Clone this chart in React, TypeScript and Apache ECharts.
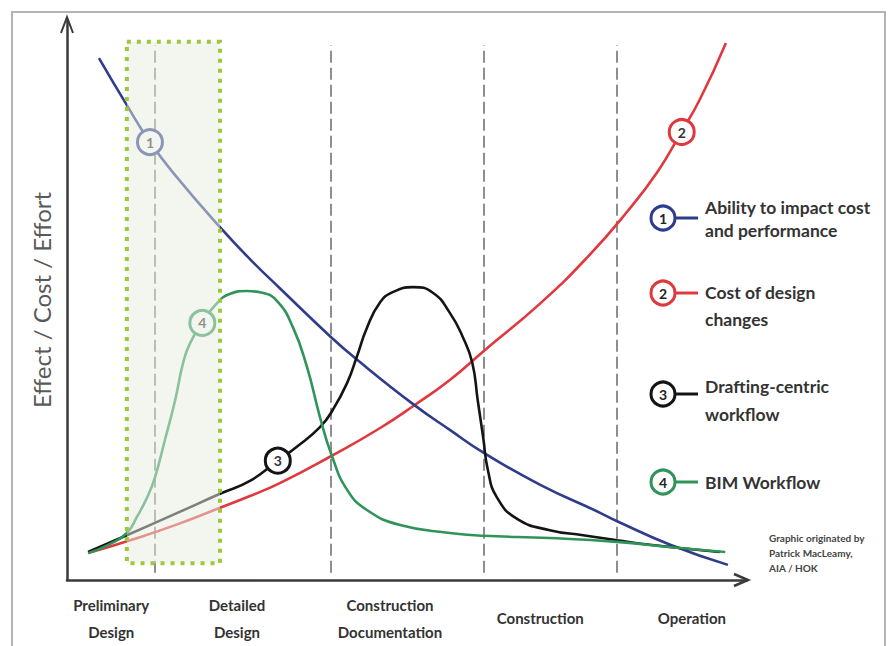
import React, { useEffect, useRef } from "react";
import * as echarts from "echarts";

// ---- data (x: project timeline 0-100, y: relative effect 0-100) ----
const abilityToImpact = [
  [4.7, 93.2], [8.8, 84.8], [12.2, 78.2], [15.9, 72.3], [22.5, 63.0], [26.9, 57.3],
  [31.3, 52.1], [38.8, 43.4], [42.4, 39.6], [50.9, 31.4], [56.3, 26.8], [61.3, 22.7],
  [69.6, 17.0], [78.4, 12.0], [80.9, 10.5], [88.7, 6.3], [97.2, 2.7],
];
const costOfDesignChanges = [
  [3.1, 4.8], [9.3, 7.1], [15.9, 9.8], [22.5, 12.9], [26.9, 15.0], [31.3, 17.3],
  [38.8, 22.1], [46.0, 27.1], [51.2, 31.3], [56.3, 35.7], [61.3, 40.9], [69.6, 49.4],
  [76.5, 57.6], [82.4, 65.8], [86.9, 73.0], [90.1, 79.5], [93.1, 85.9], [96.9, 95.9],
];
const draftingWorkflow = [
  [3.1, 5.0], [8.8, 8.0], [15.9, 11.8], [22.5, 15.4], [26.9, 17.7], [31.0, 21.3],
  [33.8, 23.8], [37.2, 27.3], [39.1, 30.4], [41.2, 35.2], [42.6, 39.8], [44.1, 45.0],
  [46.0, 49.5], [47.9, 51.4], [50.9, 52.3], [53.8, 51.3], [56.3, 47.7], [58.2, 43.4],
  [59.6, 38.8], [60.4, 32.1], [61.2, 25.5], [61.9, 19.6], [63.2, 14.8], [66.2, 10.9],
  [71.0, 8.9], [75.9, 8.0], [80.9, 7.1], [85.7, 6.3], [96.0, 5.0],
];
const bimWorkflow = [
  [3.1, 4.8], [6.3, 6.4], [8.8, 8.4], [10.3, 11.3], [11.8, 14.8], [12.9, 18.2],
  [14.4, 25.0], [15.9, 32.1], [17.1, 38.9], [18.1, 42.3], [19.9, 45.9], [21.8, 49.1],
  [24.0, 51.1], [26.5, 51.6], [28.7, 51.3], [30.9, 49.8], [33.2, 45.2], [35.3, 38.0],
  [37.2, 29.1], [39.0, 22.0], [41.2, 16.1], [44.1, 12.5], [49.0, 9.8], [56.3, 8.4],
  [61.3, 7.9], [71.0, 7.5], [80.9, 6.8], [90.1, 5.7], [96.8, 5.0],
];

const curveTags = [
  [12.2, 78.2], // 1 on ability curve
  [90.4, 80.0], // 2 on cost curve
  [31.0, 21.3], // 3 on drafting curve
  [19.9, 45.9], // 4 on BIM curve
];

const phaseNames = [
  "Preliminary\nDesign",
  "Detailed\nDesign",
  "Construction\nDocumentation",
  "Construction",
  "Operation",
];
const phaseCenters = [6.5, 25.0, 47.5, 69.6, 91.9];
const phaseBoundaries = [12.9, 38.8, 61.3, 80.9];
const boundarySpan = [1.3, 95.5];
const focusX = [8.8, 22.5];
const focusY = [3.0, 96.1];

const legendNames = [
  "Ability to impact cost\nand performance",
  "Cost of design\nchanges",
  "Drafting-centric\nworkflow",
  "BIM Workflow",
];
const axisName = "Effect / Cost / Effort";
const credit = "Graphic originated by\nPatrick MacLeamy,\nAIA / HOK";

const COLORS = ["#2f3c8c", "#e0383e", "#141414", "#2f9459"];
const FONT = "Lato, 'Open Sans', sans-serif";

export default function App() {
  const ref = useRef<HTMLDivElement>(null);

  useEffect(() => {
    document.body.style.margin = "0";
    if (!ref.current) return;
    const chart = echarts.init(ref.current, undefined, { renderer: "svg" });

    const tagPoint = (i: number) => ({
      symbol: "circle",
      symbolSize: 25,
      silent: true,
      z: 5,
      itemStyle: { color: "#ffffff", borderColor: COLORS[i], borderWidth: 3 },
      label: {
        show: true,
        formatter: String(i + 1),
        color: "#333",
        fontSize: 14,
        fontWeight: "bold",
        fontFamily: FONT,
      },
      data: [{ coord: curveTags[i] }],
    });

    const lineSeries = (name: string, data: number[][], i: number, extra: any = {}) => ({
      type: "line",
      name,
      data,
      smooth: 0.5,
      symbol: "none",
      z: 2,
      lineStyle: { color: COLORS[i], width: 2.6 },
      markPoint: tagPoint(i),
      ...extra,
    });

    const labelIndex = (v: number) => {
      let best = 0;
      phaseCenters.forEach((c, i) => {
        if (Math.abs(c - v) < Math.abs(phaseCenters[best] - v)) best = i;
      });
      return best;
    };

    const legendYs = [218, 293, 394, 482];
    const legendTextTops = [196, 279, 372, 470];
    const legendLineHeights = [23, 27, 28, 24];

    const graphics: any[] = [
      {
        type: "rect",
        shape: { x: 12, y: 12, width: 873, height: 660 },
        style: { fill: "none", stroke: "#b4b4b4", lineWidth: 2 },
        silent: true,
      },
      {
        type: "polyline",
        shape: { points: [[61, 33], [67, 17], [73, 33]] },
        style: { stroke: "#3a3a3a", lineWidth: 2, fill: "none" },
        z: 20,
      },
      {
        type: "polyline",
        shape: { points: [[734, 574], [748, 580], [734, 586]] },
        style: { stroke: "#3a3a3a", lineWidth: 2.5, fill: "none" },
        z: 20,
      },
      {
        type: "text",
        x: 769,
        y: 530,
        style: {
          text: credit,
          fill: "#444",
          font: "bold 10px " + FONT,
          lineHeight: 15,
          align: "left",
          verticalAlign: "top",
        },
      },
    ];
    legendNames.forEach((name, i) => {
      const cy = legendYs[i];
      graphics.push(
        {
          type: "line",
          shape: { x1: 676, y1: cy, x2: 698, y2: cy },
          style: { stroke: COLORS[i], lineWidth: 3 },
        },
        {
          type: "circle",
          shape: { cx: 663, cy, r: 12 },
          style: { fill: "#fff", stroke: COLORS[i], lineWidth: 3 },
        },
        {
          type: "text",
          x: 663,
          y: cy,
          style: {
            text: String(i + 1),
            fill: "#222",
            font: "bold 14px " + FONT,
            align: "center",
            verticalAlign: "middle",
          },
        },
        {
          type: "text",
          x: 705,
          y: legendTextTops[i],
          style: {
            text: name,
            fill: "#333",
            font: "bold 17.5px " + FONT,
            lineHeight: legendLineHeights[i],
            align: "left",
            verticalAlign: "top",
          },
        }
      );
    });

    const option: any = {
      animation: false,
      backgroundColor: "#ffffff",
      grid: {
        left: 67,
        right: 143,
        top: 20,
        bottom: 66,
        containLabel: false,
        outerBoundsMode: "none",
      },
      xAxis: {
        type: "value",
        min: 0,
        max: 100,
        axisLine: { show: true, lineStyle: { color: "#3a3a3a", width: 2.5 } },
        axisTick: { show: false },
        splitLine: { show: false },
        axisLabel: {
          show: true,
          customValues: phaseCenters,
          margin: 11,
          formatter: (v: number) => {
            const txt = phaseNames[labelIndex(v)];
            if (txt.includes("\n")) {
              return txt
                .split("\n")
                .map((t) => `{two|${t}}`)
                .join("\n");
            }
            return `{one|${txt}}`;
          },
          rich: {
            two: {
              lineHeight: 27,
              fontSize: 15,
              fontWeight: "bold",
              fontFamily: FONT,
              color: "#333",
            },
            one: {
              lineHeight: 54,
              fontSize: 15,
              fontWeight: "bold",
              fontFamily: FONT,
              color: "#333",
            },
          },
        },
      },
      yAxis: {
        type: "value",
        min: 0,
        max: 100,
        name: axisName,
        nameLocation: "middle",
        nameRotate: 90,
        nameGap: 14,
        nameTextStyle: { fontSize: 24, color: "#595959", fontFamily: FONT },
        axisLine: { show: true, lineStyle: { color: "#3a3a3a", width: 2.5 } },
        axisTick: { show: false },
        axisLabel: { show: false },
        splitLine: { show: false },
      },
      series: [
        lineSeries("Cost of design changes", costOfDesignChanges, 1),
        lineSeries("Ability to impact cost and performance", abilityToImpact, 0, {
          markLine: {
            silent: true,
            z: 1,
            symbol: ["none", "none"],
            label: { show: false },
            lineStyle: { color: "#6a6a6a", type: [12, 5], width: 1.5 },
            data: phaseBoundaries.map((x) => [
              { coord: [x, boundarySpan[0]] },
              { coord: [x, boundarySpan[1]] },
            ]),
          },
          markArea: {
            silent: true,
            z: 10,
            label: { show: false },
            itemStyle: {
              color: "rgba(232,237,224,0.5)",
              borderColor: "#9dc83e",
              borderWidth: 4,
              borderType: [4, 6],
            },
            data: [[{ coord: [focusX[0], focusY[1]] }, { coord: [focusX[1], focusY[0]] }]],
          },
        }),
        lineSeries("Drafting-centric workflow", draftingWorkflow, 2),
        lineSeries("BIM Workflow", bimWorkflow, 3),
      ],
      graphic: { elements: graphics },
    };

    chart.setOption(option);
    return () => chart.dispose();
  }, []);

  return <div ref={ref} style={{ width: 890, height: 646 }} />;
}
